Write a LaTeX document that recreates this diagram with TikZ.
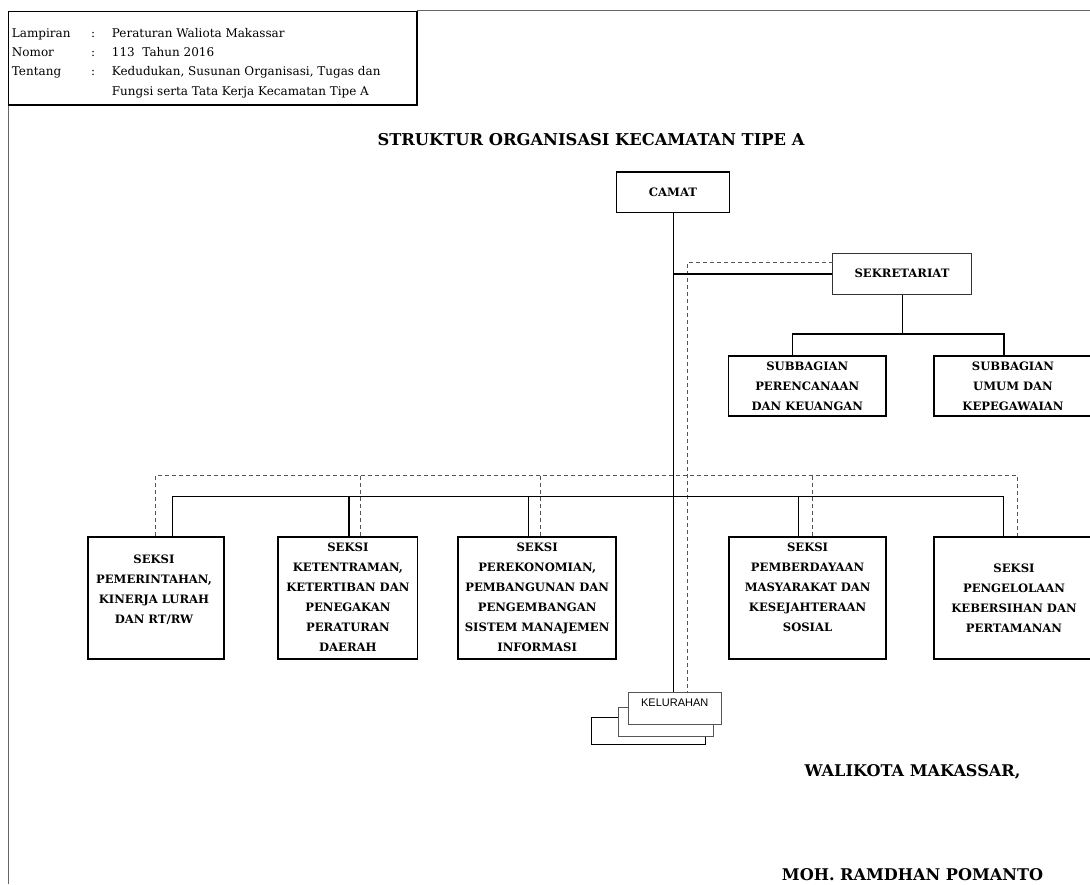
\documentclass[tikz,border=0pt]{standalone}
\usepackage{fontspec}
\setmainfont{DejaVu Serif}
\newfontfamily\kelfont{Liberation Sans}
\definecolor{dgray}{HTML}{555555}
\definecolor{fgray}{HTML}{666666}
\tikzset{
  sbox/.style={draw=black, line width=1.6pt, fill=white, inner sep=0pt},
  btxt/.style={align=center, font=\bfseries\fontsize{11.6}{20}\selectfont, inner sep=0pt},
  dsh/.style={draw=dgray, line width=0.9pt, dash pattern=on 4pt off 3pt},
  conn/.style={draw=black, line width=0.9pt},
  tconn/.style={draw=black, line width=1.6pt},
  hdr/.style={anchor=base west, font=\fontsize{12}{14}\selectfont, inner sep=0pt},
  kbox/.style={line width=0.9pt, fill=white, inner sep=0pt, minimum width=93pt, minimum height=32pt}
}
\begin{document}
\begin{tikzpicture}[x=1pt,y=-1pt]
\useasboundingbox (0,0) rectangle (1090,884);
% frame lines
\draw[fgray, line width=0.9pt] (417,10.5) -- (1090,10.5);
\draw[fgray, line width=0.9pt] (8.5,105) -- (8.5,884);
% header box
\node[draw=black, line width=1.8pt, minimum width=408.5pt, minimum height=93.5pt, inner sep=0pt] (hbox) at (212.75,58.25) {};
\node[hdr] (h1a) at (11.7,37) {Lampiran};
\node[hdr] (h1b) at (91,37) {:};
\node[hdr] (h1c) at (111.7,37) {Peraturan Waliota Makassar};
\node[hdr] (h2a) at (11.7,56.3) {Nomor};
\node[hdr] (h2b) at (91,56.3) {:};
\node[hdr] (h2c) at (111.7,56.3) {113\ \ Tahun 2016};
\node[hdr] (h3a) at (11.7,75.6) {Tentang};
\node[hdr] (h3b) at (91,75.6) {:};
\node[hdr] (h3c) at (111.7,75.6) {Kedudukan, Susunan Organisasi, Tugas dan};
\node[hdr] (h4c) at (111.7,95) {Fungsi serta Tata Kerja Kecamatan Tipe A};
% title
\node[font=\bfseries\fontsize{16.3}{18}\selectfont, inner sep=0pt] (title) at (591,140) {STRUKTUR ORGANISASI KECAMATAN TIPE A};
% Camat and sekretariat
\node[sbox, minimum width=113pt, minimum height=40.5pt, btxt] (camat) at (673,192.2) {CAMAT};
\node[draw=black!80, line width=0.9pt, fill=white, minimum width=139pt, minimum height=41.3pt, btxt] (sek) at (902,273.7) {SEKRETARIAT};
\node[sbox, minimum width=157.3pt, minimum height=60pt, btxt] (subl) at (807.3,386) {SUBBAGIAN\\PERENCANAAN\\DAN KEUANGAN};
\node[sbox, minimum width=162pt, minimum height=60pt] (subr) at (1015,386) {};
\node[btxt] (subrt) at (1013,386.2) {SUBBAGIAN\\UMUM DAN\\KEPEGAWAIAN};
% sections
\node[sbox, minimum width=136.3pt, minimum height=122.3pt] (s1) at (156.1,597.85) {};
\node[btxt] (s1t) at (154,589.3) {SEKSI\\PEMERINTAHAN,\\KINERJA LURAH\\DAN RT/RW};
\node[sbox, minimum width=139.3pt, minimum height=122.3pt] (s2) at (347.85,597.85) {};
\node[btxt] (s2t) at (347.9,597.3) {SEKSI\\KETENTRAMAN,\\KETERTIBAN DAN\\PENEGAKAN\\PERATURAN\\DAERAH};
\node[sbox, minimum width=157.9pt, minimum height=122.3pt] (s3) at (537.15,597.85) {};
\node[btxt] (s3t) at (537.15,597.3) {SEKSI\\PEREKONOMIAN,\\PEMBANGUNAN DAN\\PENGEMBANGAN\\SISTEM MANAJEMEN\\INFORMASI};
\node[sbox, minimum width=157.5pt, minimum height=122.3pt] (s4) at (807.45,597.85) {};
\node[btxt] (s4t) at (807.6,587.3) {SEKSI\\PEMBERDAYAAN\\MASYARAKAT DAN\\KESEJAHTERAAN\\SOSIAL};
\node[sbox, minimum width=162pt, minimum height=122.3pt] (s5) at (1015,597.85) {};
\node[btxt] (s5t) at (1014,598) {SEKSI\\PENGELOLAAN\\KEBERSIHAN DAN\\PERTAMANAN};
% kelurahan stack
\node[kbox, draw=black, minimum width=114pt, minimum height=27pt] (kel3) at (648,730.5) {};
\node[kbox, draw=dgray, minimum width=95pt, minimum height=29pt] (kel2) at (665.5,721.5) {};
\node[kbox, draw=dgray] (kel1) at (675.2,708) {};
\node[font=\kelfont\fontsize{11}{13}\selectfont, inner sep=0pt] (kelt) at (674.7,702.7) {KELURAHAN};
% coordinates
\coordinate (d1) at (832.5,262.3);
\coordinate (d2) at (687,262.3);
\coordinate (c0) at (673,274);
\coordinate (c1) at (792.3,334);
\coordinate (c2) at (1003.9,334);
\coordinate (b1) at (172.5,496);
\coordinate (b2) at (349,496);
\coordinate (b3) at (528.6,496);
\coordinate (b4) at (798.5,496);
\coordinate (b5) at (1003,496);
\coordinate (e1) at (155.4,475.7);
\coordinate (e2) at (360,475.7);
\coordinate (e3) at (540.4,475.7);
\coordinate (e4) at (812.9,475.7);
\coordinate (e5) at (1017.7,475.7);
% dashed lines
\draw[dsh] (d1) -- (d2) -- (d2 |- kel1.north);
\draw[dsh] (e1 |- s1.north) -- (e1) -- (e5) -- (e5 |- s5.north);
\draw[dsh] (e2) -- (e2 |- s2.north);
\draw[dsh] (e3) -- (e3 |- s3.north);
\draw[dsh] (e4) -- (e4 |- s4.north);
% solid lines
\draw[conn] (camat.south) -- (camat.south |- kel1.north);
\draw[tconn] (c0) -- (c0 -| sek.west);
\draw[conn] (sek.south) -- (sek.south |- c1);
\draw[tconn] (c1 |- subl.north) -- (c1) -- (c2) -- (c2 |- subr.north);
\draw[conn] (b1 |- s1.north) -- (b1) -- (b5) -- (b5 |- s5.north);
\draw[tconn] (b2) -- (b2 |- s2.north);
\draw[conn] (b3) -- (b3 |- s3.north);
\draw[conn] (b4) -- (b4 |- s4.north);
% signature
\node[font=\bfseries\fontsize{16.1}{18}\selectfont, inner sep=0pt] (wk) at (912.5,772) {WALIKOTA MAKASSAR,};
\node[font=\bfseries\fontsize{16.1}{18}\selectfont, inner sep=0pt] (moh) at (912.5,875) {MOH. RAMDHAN POMANTO};
\end{tikzpicture}
\end{document}
